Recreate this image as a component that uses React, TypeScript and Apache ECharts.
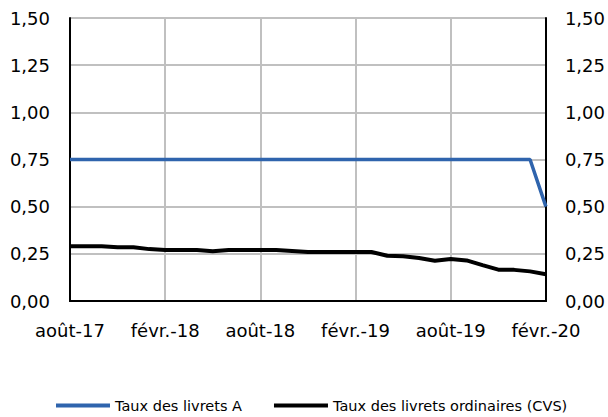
import React, { useEffect, useRef } from "react";
import * as echarts from "echarts";

const months = ["janv.", "févr.", "mars", "avr.", "mai", "juin", "juil.", "août", "sept.", "oct.", "nov.", "déc."];
const categories: string[] = [];
for (let i = 0; i < 31; i++) {
  const m = (7 + i) % 12;
  const y = 17 + Math.floor((7 + i) / 12);
  categories.push(`${months[m]}-${y}`);
}

const livretA = [
  0.75, 0.75, 0.75, 0.75, 0.75, 0.75, 0.75, 0.75, 0.75, 0.75,
  0.75, 0.75, 0.75, 0.75, 0.75, 0.75, 0.75, 0.75, 0.75, 0.75,
  0.75, 0.75, 0.75, 0.75, 0.75, 0.75, 0.75, 0.75, 0.75, 0.75,
  0.5,
];
const livretsOrdinaires = [
  0.29, 0.29, 0.29, 0.285, 0.285, 0.275, 0.27, 0.27, 0.27, 0.264,
  0.27, 0.27, 0.27, 0.27, 0.265, 0.26, 0.26, 0.26, 0.26, 0.26,
  0.24, 0.237, 0.228, 0.213, 0.223, 0.215, 0.19, 0.166, 0.165, 0.157,
  0.142,
];
const seriesNames = ["Taux des livrets A", "Taux des livrets ordinaires (CVS)"];

const FONT = "DejaVu Sans, Liberation Sans, Arial, sans-serif";

export default function App() {
  const ref = useRef<HTMLDivElement>(null);
  useEffect(() => {
    const chart = echarts.init(ref.current!, null, { renderer: "svg" });
    const fmt = (v: number) => v.toFixed(2).replace(".", ",");
    const yCommon = {
      type: "value" as const,
      min: 0,
      max: 1.5,
      interval: 0.25,
      axisLine: { show: true, lineStyle: { color: "#000", width: 2 } },
      axisTick: { show: false },
    };
    chart.setOption({
      animation: false,
      textStyle: { fontFamily: FONT },
      grid: { left: 70, right: 60, top: 18, bottom: 116 },
      legend: {
        left: 51,
        top: 393,
        itemWidth: 54,
        itemHeight: 4,
        itemGap: 32,
        icon: "rect",
        textStyle: { fontSize: 14.5, color: "#000", fontFamily: FONT },
        data: seriesNames,
      },
      xAxis: [
        {
          type: "category",
          data: categories,
          boundaryGap: false,
          axisLine: { show: true, lineStyle: { color: "#000", width: 2 } },
          axisTick: { show: false },
          axisLabel: { interval: 5, fontSize: 18, color: "#000", margin: 20 },
          splitLine: { show: true, interval: 5, lineStyle: { color: "#c0c0c0", width: 2 } },
        },
        {
          type: "category",
          data: categories,
          boundaryGap: false,
          position: "top",
          axisLine: { show: true, lineStyle: { color: "#000", width: 2 } },
          axisTick: { show: false },
          axisLabel: { show: false },
          splitLine: { show: false },
        },
      ],
      yAxis: [
        {
          ...yCommon,
          position: "left",
          axisLabel: { formatter: fmt, fontSize: 18, color: "#000", margin: 20 },
          splitLine: { show: true, lineStyle: { color: "#c0c0c0", width: 2 } },
        },
        {
          ...yCommon,
          position: "right",
          axisLabel: { formatter: fmt, fontSize: 18, color: "#000", margin: 19 },
          splitLine: { show: false },
        },
      ],
      series: [
        {
          name: seriesNames[0],
          type: "line",
          data: livretA,
          symbol: "none",
          lineStyle: { color: "#2f64ad", width: 3.5 },
          itemStyle: { color: "#2f64ad" },
          z: 3,
        },
        {
          name: seriesNames[1],
          type: "line",
          data: livretsOrdinaires,
          symbol: "none",
          lineStyle: { color: "#000", width: 4 },
          itemStyle: { color: "#000" },
          z: 3,
        },
      ],
    });
    return () => chart.dispose();
  }, []);
  return <div ref={ref} style={{ width: 608, height: 417, position: "absolute", left: 0, top: 0 }} />;
}
